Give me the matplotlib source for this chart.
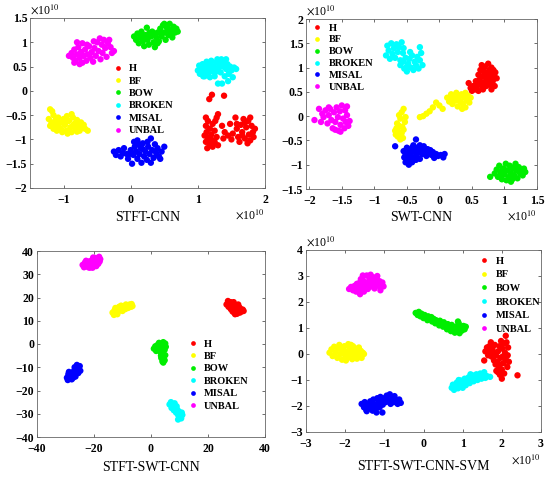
import numpy as np
import matplotlib
matplotlib.use("Agg")
import matplotlib.pyplot as plt
from matplotlib.lines import Line2D

plt.rcParams["font.family"] = ["Liberation Serif", "DejaVu Serif"]
plt.rcParams["mathtext.fontset"] = "stix"

class_names = ["H", "BF", "BOW", "BROKEN", "MISAL", "UNBAL"]
class_colors = ["#ff0000", "#ffff00", "#00ee00", "#00ffff", "#0000ff", "#ff00ff"]

# ---- STFT-CNN (x1e10) ----
stft_cnn_H = np.array([
    (1.17, -0.17), (1.21, -0.08), (1.39, -0.10),
    (1.12, -0.55), (1.15, -0.62), (1.12, -0.72), (1.18, -0.78), (1.13, -0.85), (1.20, -0.90),
    (1.15, -0.97), (1.12, -1.05), (1.18, -1.10), (1.14, -1.18), (1.22, -1.15), (1.25, -1.05),
    (1.22, -0.68), (1.28, -0.55), (1.30, -0.48), (1.26, -0.62), (1.25, -0.82), (1.28, -0.95),
    (1.30, -1.12), (1.20, -1.00), (1.10, -0.92), (1.36, -0.72), (1.40, -0.85), (1.38, -0.98),
    (1.45, -0.92), (1.48, -0.68), (1.52, -0.88), (1.50, -1.00), (1.56, -0.55), (1.58, -0.78),
    (1.60, -0.95), (1.64, -0.70), (1.66, -0.85), (1.68, -0.58), (1.70, -0.98), (1.72, -0.75),
    (1.75, -0.62), (1.76, -0.90), (1.78, -1.02), (1.80, -0.72), (1.82, -0.85), (1.85, -0.78),
    (1.62, -1.05), (1.70, -0.65), (1.78, -0.55), (1.74, -1.08), (1.83, -0.95), (1.66, -0.92),
    (1.58, -0.68)])
stft_cnn_BF = np.array([
    (-1.20, -0.38), (-1.17, -0.42), (-1.15, -0.50), (-1.22, -0.58), (-1.18, -0.65), (-1.12, -0.60),
    (-1.20, -0.72), (-1.15, -0.78), (-1.10, -0.70), (-1.08, -0.55), (-1.05, -0.65), (-1.04, -0.78),
    (-1.00, -0.58), (-0.98, -0.70), (-0.96, -0.82), (-0.95, -0.52), (-0.92, -0.62), (-0.90, -0.75),
    (-0.88, -0.85), (-0.86, -0.55), (-0.84, -0.68), (-0.82, -0.78), (-0.80, -0.60), (-0.78, -0.72),
    (-0.76, -0.82), (-0.74, -0.65), (-0.72, -0.76), (-0.68, -0.78), (-0.64, -0.82), (-1.10, -0.82),
    (-1.02, -0.85), (-0.94, -0.88), (-0.88, -0.48), (-1.13, -0.68), (-0.97, -0.64), (-0.86, -0.72),
    (-1.07, -0.74), (-0.80, -0.84), (-0.70, -0.70)])
stft_cnn_BOW = np.array([
    (0.05, 1.12), (0.08, 1.05), (0.10, 1.18), (0.12, 0.98), (0.14, 1.10), (0.16, 1.22), (0.18, 1.02),
    (0.20, 0.92), (0.22, 1.15), (0.24, 1.30), (0.25, 1.05), (0.27, 0.95), (0.30, 1.12), (0.32, 1.22),
    (0.34, 1.00), (0.36, 0.90), (0.38, 1.10), (0.40, 1.20), (0.42, 1.02), (0.44, 1.28), (0.46, 1.12),
    (0.48, 1.35), (0.50, 1.20), (0.52, 1.05), (0.54, 1.30), (0.56, 1.15), (0.58, 1.38), (0.60, 1.25),
    (0.62, 1.10), (0.64, 1.32), (0.66, 1.20), (0.68, 1.28), (0.70, 1.22), (0.50, 1.38), (0.45, 1.18),
    (0.35, 1.18), (0.20, 1.08), (0.28, 1.20), (0.55, 1.22), (0.62, 1.18), (0.40, 0.98), (0.15, 1.15)])
stft_cnn_BROKEN = np.array([
    (1.00, 0.42), (1.02, 0.52), (1.03, 0.35), (1.05, 0.45), (1.07, 0.55), (1.08, 0.30), (1.10, 0.40),
    (1.12, 0.50), (1.13, 0.60), (1.15, 0.35), (1.17, 0.45), (1.18, 0.55), (1.20, 0.62), (1.22, 0.40),
    (1.24, 0.50), (1.25, 0.30), (1.27, 0.58), (1.29, 0.65), (1.30, 0.45), (1.32, 0.55), (1.34, 0.38),
    (1.35, 0.65), (1.37, 0.50), (1.39, 0.60), (1.40, 0.30), (1.42, 0.45), (1.44, 0.55), (1.46, 0.35),
    (1.48, 0.50), (1.50, 0.42), (1.52, 0.28), (1.54, 0.48), (1.57, 0.45), (1.45, 0.20), (1.30, 0.15),
    (1.36, 0.15), (1.10, 0.30), (1.28, 0.40), (1.18, 0.28), (1.42, 0.65)])
stft_cnn_MISAL = np.array([
    (-0.25, -1.25), (-0.22, -1.32), (-0.18, -1.22), (-0.15, -1.35), (-0.12, -1.28), (-0.10, -1.18),
    (-0.06, -1.30), (-0.04, -1.40), (0.00, -1.22), (0.02, -1.50), (0.04, -1.32), (0.06, -1.15),
    (0.08, -1.25), (0.10, -1.02), (0.10, -1.40), (0.13, -1.30), (0.15, -1.18), (0.16, -1.48),
    (0.18, -1.08), (0.20, -1.35), (0.22, -1.25), (0.24, -1.42), (0.26, -1.15), (0.28, -1.30),
    (0.30, -0.98), (0.30, -1.48), (0.32, -1.22), (0.34, -1.38), (0.36, -1.10), (0.38, -1.28),
    (0.40, -1.18), (0.42, -1.35), (0.44, -1.40), (0.46, -1.25), (0.50, -1.15), (0.12, -1.10),
    (0.05, -1.05), (-0.02, -1.30), (0.25, -1.05), (0.18, -1.20)])
stft_cnn_UNBAL = np.array([
    (-0.92, 0.72), (-0.88, 0.78), (-0.86, 0.68), (-0.84, 0.85), (-0.82, 0.62), (-0.80, 0.75),
    (-0.78, 0.90), (-0.76, 0.68), (-0.74, 0.80), (-0.72, 0.58), (-0.70, 0.72), (-0.68, 0.85),
    (-0.66, 0.62), (-0.64, 0.75), (-0.62, 0.92), (-0.60, 0.68), (-0.58, 0.80), (-0.56, 0.60),
    (-0.54, 0.88), (-0.52, 0.72), (-0.50, 1.00), (-0.48, 0.82), (-0.46, 1.08), (-0.45, 0.65),
    (-0.43, 0.95), (-0.42, 0.78), (-0.40, 1.05), (-0.38, 0.88), (-0.36, 0.70), (-0.34, 0.98),
    (-0.32, 1.05), (-0.30, 0.90), (-0.28, 0.78), (-0.25, 0.82), (-0.80, 1.00), (-0.72, 0.98),
    (-0.65, 0.95), (-0.84, 0.58), (-0.76, 0.55), (-0.55, 1.02)])

# ---- SWT-CNN (x1e10) ----
swt_cnn_H = np.array([
    (0.45, 0.68), (0.48, 0.58), (0.50, 0.52), (0.52, 0.62), (0.55, 0.55), (0.56, 0.72), (0.58, 0.62),
    (0.60, 0.85), (0.60, 0.52), (0.62, 0.75), (0.63, 0.95), (0.64, 0.65), (0.65, 1.05), (0.66, 0.82),
    (0.67, 0.55), (0.68, 0.92), (0.69, 0.70), (0.70, 1.02), (0.71, 0.80), (0.72, 0.62), (0.73, 0.90),
    (0.74, 0.72), (0.75, 1.08), (0.76, 0.85), (0.77, 0.95), (0.78, 0.65), (0.79, 0.78), (0.80, 1.00),
    (0.81, 0.88), (0.82, 0.72), (0.83, 0.95), (0.84, 0.82), (0.85, 0.62), (0.86, 0.90), (0.88, 0.78),
    (0.66, 0.62), (0.70, 0.88), (0.75, 0.78), (0.62, 0.68), (0.80, 0.55)])
swt_cnn_BF = np.array([
    (-0.55, 0.15), (-0.58, 0.08), (-0.62, 0.02), (-0.60, -0.05), (-0.65, -0.15), (-0.62, -0.20),
    (-0.66, -0.25), (-0.63, -0.32), (-0.67, -0.38), (-0.64, -0.42), (-0.60, -0.48), (-0.56, -0.45),
    (-0.58, -0.35), (-0.55, -0.28), (-0.53, -0.12), (-0.57, -0.22), (-0.52, -0.02), (-0.68, -0.30),
    (-0.30, -0.02), (-0.25, 0.00), (-0.20, 0.05), (-0.15, 0.10), (-0.10, 0.18), (-0.05, 0.28),
    (0.05, 0.15), (0.00, 0.22), (0.12, 0.38), (0.15, 0.30), (0.18, 0.45), (0.20, 0.25), (0.22, 0.38),
    (0.25, 0.32), (0.26, 0.48), (0.28, 0.20), (0.30, 0.40), (0.32, 0.30), (0.34, 0.45), (0.36, 0.25),
    (0.38, 0.38), (0.40, 0.18), (0.42, 0.32), (0.44, 0.42), (0.46, 0.28), (0.48, 0.38), (0.40, 0.48),
    (0.18, 0.35), (0.35, 0.15)])
swt_cnn_BOW = np.array([
    (0.78, -1.25), (0.85, -1.18), (0.88, -1.10), (0.90, -1.25), (0.92, -1.02), (0.94, -1.15),
    (0.96, -1.30), (0.98, -1.08), (1.00, -1.20), (1.02, -0.98), (1.03, -1.32), (1.05, -1.12),
    (1.07, -1.25), (1.08, -1.02), (1.10, -1.18), (1.12, -1.30), (1.13, -1.08), (1.15, -1.22),
    (1.17, -0.98), (1.18, -1.12), (1.20, -1.28), (1.22, -1.05), (1.24, -1.18), (1.26, -1.10),
    (1.28, -1.22), (1.30, -1.08), (1.32, -1.15), (1.00, -1.10), (0.95, -1.20), (1.10, -1.35),
    (1.15, -1.05)])
swt_cnn_BROKEN = np.array([
    (-0.82, 1.25), (-0.80, 1.45), (-0.78, 1.35), (-0.76, 1.18), (-0.74, 1.50), (-0.72, 1.28),
    (-0.70, 1.40), (-0.68, 1.20), (-0.66, 1.48), (-0.64, 1.32), (-0.62, 1.42), (-0.60, 1.15),
    (-0.58, 1.52), (-0.56, 1.30), (-0.55, 1.40), (-0.60, 1.05), (-0.56, 1.12), (-0.54, 0.98),
    (-0.52, 1.20), (-0.50, 0.92), (-0.48, 1.08), (-0.46, 1.18), (-0.44, 1.00), (-0.42, 1.25),
    (-0.40, 0.95), (-0.38, 1.12), (-0.36, 1.05), (-0.34, 1.22), (-0.32, 0.98), (-0.30, 1.15),
    (-0.28, 1.30), (-0.26, 1.05), (-0.30, 1.42), (-0.45, 1.32), (-0.50, 1.02)])
swt_cnn_MISAL = np.array([
    (-0.68, -0.62), (-0.36, -0.48), (-0.55, -0.72), (-0.54, -0.85), (-0.52, -0.78), (-0.50, -0.92),
    (-0.50, -0.65), (-0.48, -0.82), (-0.47, -1.00), (-0.46, -0.72), (-0.45, -0.88), (-0.44, -0.78),
    (-0.42, -0.95), (-0.42, -0.65), (-0.40, -0.85), (-0.38, -0.72), (-0.36, -0.90), (-0.35, -0.80),
    (-0.34, -0.65), (-0.32, -0.75), (-0.30, -0.88), (-0.28, -0.68), (-0.26, -0.78), (-0.24, -0.62),
    (-0.22, -0.72), (-0.20, -0.82), (-0.18, -0.68), (-0.16, -0.76), (-0.14, -0.70), (-0.12, -0.80),
    (-0.10, -0.74), (-0.08, -0.86), (-0.05, -0.78), (-0.02, -0.82), (0.02, -0.80), (0.06, -0.85),
    (0.08, -0.78), (-0.52, -0.95), (-0.40, -0.60), (-0.30, -0.60)])
swt_cnn_UNBAL = np.array([
    (-1.92, -0.08), (-1.85, 0.15), (-1.82, -0.12), (-1.80, 0.05), (-1.78, -0.02), (-1.75, 0.12),
    (-1.72, -0.15), (-1.70, 0.02), (-1.68, 0.15), (-1.66, -0.08), (-1.64, -0.25), (-1.62, 0.08),
    (-1.60, -0.12), (-1.58, 0.18), (-1.56, -0.02), (-1.55, -0.30), (-1.53, 0.10), (-1.52, -0.18),
    (-1.50, 0.22), (-1.48, -0.05), (-1.46, -0.25), (-1.45, 0.12), (-1.44, -0.12), (-1.42, 0.02),
    (-1.40, -0.20), (-1.38, -0.10), (-1.42, 0.20), (-1.60, -0.28), (-1.70, 0.18), (-1.52, -0.32)])

# ---- STFT-SWT-CNN ----
fused_cnn_H = np.array([
    (26.5, 17.0), (27.0, 18.5), (27.2, 16.0), (27.5, 17.5), (28.0, 15.0), (28.0, 18.0), (28.3, 16.5),
    (28.6, 14.0), (28.8, 17.2), (29.0, 15.5), (29.2, 13.5), (29.5, 16.8), (29.7, 14.8), (30.0, 16.0),
    (30.2, 13.0), (30.4, 15.0), (30.6, 17.0), (30.8, 14.2), (31.0, 15.8), (31.2, 13.5), (31.5, 15.0),
    (31.8, 14.0), (32.2, 14.8), (32.5, 14.2), (29.0, 18.0), (28.5, 15.8), (30.0, 13.8), (29.5, 12.8)])
fused_cnn_BF = np.array([
    (-13.5, 13.5), (-13.0, 12.5), (-12.8, 14.5), (-12.3, 13.5), (-12.0, 15.0), (-11.5, 14.0),
    (-11.2, 16.0), (-10.8, 15.0), (-10.5, 16.5), (-10.0, 15.2), (-9.5, 16.0), (-9.0, 15.0),
    (-8.5, 16.2), (-8.0, 15.5), (-7.5, 17.0), (-7.0, 16.0), (-6.8, 17.2), (-6.5, 16.3),
    (-11.8, 12.8), (-10.0, 14.2), (-8.8, 17.0), (-12.5, 15.5)])
fused_cnn_BOW = np.array([
    (1.0, -2.0), (1.5, -1.0), (1.8, -3.0), (2.2, -0.5), (2.5, -2.2), (2.8, 0.5), (3.0, -1.5),
    (3.3, -3.5), (3.5, 0.0), (3.8, -2.0), (4.0, -1.0), (4.3, 0.8), (4.5, -0.5), (4.8, -2.5),
    (5.0, 0.2), (5.2, -1.2), (3.8, -4.5), (4.2, -5.5), (3.6, -6.0), (4.5, -6.5), (4.0, -7.5),
    (4.8, -7.0), (4.3, -8.0), (3.5, -5.0), (5.0, -4.8)])
fused_cnn_BROKEN = np.array([
    (6.5, -26.0), (7.0, -25.0), (7.2, -27.5), (7.8, -26.2), (8.0, -28.5), (8.3, -25.5), (8.5, -27.2),
    (8.8, -29.5), (9.0, -26.8), (9.2, -28.2), (9.5, -30.5), (9.8, -29.0), (10.0, -31.5), (10.3, -30.0),
    (10.6, -32.0), (11.0, -30.5), (9.5, -32.5), (8.0, -27.0), (10.8, -29.5)])
fused_cnn_MISAL = np.array([
    (-29.5, -14.5), (-29.0, -13.0), (-29.2, -15.5), (-28.5, -14.0), (-28.0, -12.5), (-28.2, -15.0),
    (-27.5, -13.5), (-27.0, -11.5), (-27.3, -14.5), (-26.8, -10.0), (-26.5, -12.5), (-26.0, -9.0),
    (-26.2, -11.0), (-25.5, -10.5), (-25.0, -9.5), (-24.8, -11.5), (-25.5, -12.5), (-28.8, -12.0),
    (-27.8, -15.2), (-26.5, -14.0)])
fused_cnn_UNBAL = np.array([
    (-24.0, 34.0), (-23.5, 33.0), (-23.2, 35.0), (-22.5, 34.2), (-22.0, 33.0), (-21.8, 35.5),
    (-21.2, 34.0), (-20.8, 36.0), (-20.5, 32.8), (-20.0, 35.0), (-19.5, 37.0), (-19.2, 33.5),
    (-19.0, 36.0), (-18.5, 34.5), (-18.2, 37.5), (-18.0, 35.5), (-17.8, 36.5), (-22.8, 35.8),
    (-20.3, 37.2), (-21.5, 32.8)])

# ---- STFT-SWT-CNN-SVM (x1e10) ----
svm_H = np.array([
    (1.55, -0.25), (1.58, 0.10), (1.62, 0.25), (1.65, -0.05), (1.68, 0.30), (1.70, 0.10), (1.72, 0.45),
    (1.74, -0.10), (1.76, 0.20), (1.78, 0.05), (1.80, -0.25), (1.82, 0.35), (1.84, -0.40),
    (1.86, -0.65), (1.88, -0.30), (1.90, 0.10), (1.92, -0.50), (1.94, 0.30), (1.95, -0.80),
    (1.96, -0.15), (1.98, 0.50), (2.00, -0.60), (2.00, -0.95), (2.02, 0.20), (2.04, -0.35),
    (2.05, 0.40), (2.06, -0.75), (2.08, 0.05), (2.10, -0.20), (2.12, 0.45), (2.14, -0.50),
    (2.15, -0.05), (2.16, 0.25), (2.18, -0.30), (2.10, 0.70), (1.90, -0.70), (1.96, -0.40),
    (2.40, -0.82), (2.02, -0.10), (1.85, -0.05)])
svm_BF = np.array([
    (-2.40, 0.05), (-2.35, 0.18), (-2.32, -0.08), (-2.28, 0.28), (-2.25, 0.05), (-2.20, -0.15),
    (-2.18, 0.20), (-2.15, 0.35), (-2.12, 0.00), (-2.08, -0.22), (-2.05, 0.15), (-2.02, 0.30),
    (-2.00, -0.05), (-1.98, -0.25), (-1.95, 0.10), (-1.92, 0.38), (-1.90, -0.12), (-1.88, 0.22),
    (-1.85, 0.02), (-1.82, -0.20), (-1.80, 0.30), (-1.78, 0.10), (-1.75, -0.08), (-1.72, 0.20),
    (-1.70, -0.18), (-1.68, 0.05), (-1.65, 0.25), (-1.62, -0.05), (-1.60, 0.12), (-1.58, -0.15),
    (-1.55, 0.05), (-1.52, 0.00), (-2.10, 0.22), (-1.85, 0.35)])
svm_BOW = np.array([
    (-0.20, 1.58), (-0.15, 1.50), (-0.12, 1.62), (-0.08, 1.45), (-0.05, 1.55), (0.00, 1.38),
    (0.03, 1.50), (0.06, 1.42), (0.10, 1.30), (0.12, 1.45), (0.16, 1.35), (0.20, 1.42), (0.22, 1.25),
    (0.26, 1.35), (0.30, 1.18), (0.32, 1.30), (0.36, 1.22), (0.40, 1.10), (0.42, 1.28), (0.46, 1.15),
    (0.50, 1.05), (0.52, 1.22), (0.56, 1.10), (0.60, 0.95), (0.62, 1.15), (0.66, 1.02), (0.70, 0.88),
    (0.72, 1.12), (0.76, 0.95), (0.80, 0.82), (0.82, 1.05), (0.86, 0.92), (0.90, 1.18), (0.92, 0.80),
    (0.95, 1.02), (0.98, 0.90), (1.02, 1.08), (1.05, 0.95), (1.08, 1.05), (0.88, 1.25)])
svm_BROKEN = np.array([
    (0.72, -1.30), (0.75, -1.18), (0.78, -1.38), (0.82, -1.22), (0.85, -1.10), (0.88, -1.32),
    (0.92, -1.15), (0.95, -1.02), (0.98, -1.25), (1.02, -1.10), (1.05, -0.95), (1.08, -1.20),
    (1.12, -1.02), (1.15, -0.90), (1.18, -1.12), (1.22, -0.95), (1.25, -0.82), (1.28, -1.05),
    (1.32, -0.90), (1.35, -0.78), (1.38, -1.00), (1.42, -0.85), (1.45, -0.75), (1.48, -0.95),
    (1.52, -0.82), (1.55, -0.70), (1.58, -0.92), (1.62, -0.85), (1.70, -0.88), (1.00, -1.30),
    (1.20, -0.78), (0.90, -1.00)])
svm_MISAL = np.array([
    (-1.58, -1.92), (-1.52, -2.05), (-1.50, -1.85), (-1.46, -2.15), (-1.42, -1.95), (-1.40, -2.10),
    (-1.36, -1.82), (-1.34, -2.00), (-1.30, -2.18), (-1.28, -1.75), (-1.25, -1.95), (-1.22, -2.10),
    (-1.18, -1.70), (-1.16, -1.88), (-1.12, -2.05), (-1.10, -1.65), (-1.08, -1.80), (-1.05, -2.25),
    (-1.04, -1.95), (-1.00, -1.70), (-0.96, -1.85), (-0.94, -1.60), (-0.90, -1.78), (-0.86, -1.55),
    (-0.84, -1.92), (-0.80, -1.70), (-0.76, -1.85), (-0.74, -1.62), (-0.70, -1.78), (-0.66, -1.92),
    (-0.62, -1.75), (-0.58, -1.88), (-1.20, -2.25), (-1.45, -2.20)])
svm_UNBAL = np.array([
    (-1.90, 2.50), (-1.85, 2.58), (-1.80, 2.45), (-1.76, 2.62), (-1.72, 2.40), (-1.68, 2.55),
    (-1.65, 2.72), (-1.62, 2.30), (-1.60, 2.48), (-1.58, 2.65), (-1.55, 2.85), (-1.52, 2.40),
    (-1.50, 2.58), (-1.48, 2.75), (-1.45, 3.02), (-1.42, 2.50), (-1.40, 2.68), (-1.38, 2.88),
    (-1.35, 3.05), (-1.32, 2.60), (-1.30, 2.78), (-1.28, 2.95), (-1.25, 2.52), (-1.22, 2.70),
    (-1.20, 2.88), (-1.18, 3.00), (-1.15, 2.62), (-1.12, 2.80), (-1.10, 2.45), (-1.05, 2.75),
    (-1.02, 2.60), (-1.55, 3.02), (-1.60, 2.88), (-1.70, 2.70)])

panel_titles = ["STFT-CNN", "SWT-CNN", "STFT-SWT-CNN", "STFT-SWT-CNN-SVM"]
panel_xticks = [[-1, 0, 1, 2], [-2, -1.5, -1, -0.5, 0, 0.5, 1, 1.5],
                [-40, -20, 0, 20, 40], [-3, -2, -1, 0, 1, 2, 3]]
panel_yticks = [[-2, -1.5, -1, -0.5, 0, 0.5, 1, 1.5], [-1.5, -1, -0.5, 0, 0.5, 1, 1.5, 2],
                [-40, -30, -20, -10, 0, 10, 20, 30, 40], [-3, -2, -1, 0, 1, 2, 3, 4]]
panel_xlim = [(-1.5, 2), (-2.05, 1.5), (-40, 40), (-3, 3)]
panel_ylim = [(-2, 1.5), (-1.5, 2), (-40, 40), (-3, 4)]
panel_scaled = [True, True, False, True]

panel_data = [
    [stft_cnn_H, stft_cnn_BF, stft_cnn_BOW, stft_cnn_BROKEN, stft_cnn_MISAL, stft_cnn_UNBAL],
    [swt_cnn_H, swt_cnn_BF, swt_cnn_BOW, swt_cnn_BROKEN, swt_cnn_MISAL, swt_cnn_UNBAL],
    [fused_cnn_H, fused_cnn_BF, fused_cnn_BOW, fused_cnn_BROKEN, fused_cnn_MISAL, fused_cnn_UNBAL],
    [svm_H, svm_BF, svm_BOW, svm_BROKEN, svm_MISAL, svm_UNBAL],
]

# axes rectangles (left, bottom, width, height) in figure fractions
axes_rects = [
    (30 / 550, 1 - 188 / 478, 235 / 550, 170 / 478),
    (306 / 550, 1 - 189 / 478, 231 / 550, 170 / 478),
    (37 / 550, 1 - 437 / 478, 228 / 550, 186 / 478),
    (306 / 550, 1 - 432 / 478, 235 / 550, 182 / 478),
]
legend_anchor = [(0.355, 0.73), (0.03, 0.975), (0.665, 0.525), (0.74, 0.965)]
legend_spacing = [0.3, 0.25, 0.3, 0.42]
title_offset = [-0.175, -0.17, -0.165, -0.19]


def tick_text(v):
    s = "%g" % v
    return s.replace("-", "\u2212")


fig = plt.figure(figsize=(5.5, 4.78), dpi=100)

for i in range(4):
    ax = fig.add_axes(axes_rects[i])
    for pts, name, col in zip(panel_data[i], class_names, class_colors):
        ax.scatter(pts[:, 0], pts[:, 1], s=21, c=col, edgecolors="none", label=name)
    ax.set_xlim(panel_xlim[i])
    ax.set_ylim(panel_ylim[i])
    ax.set_xticks(panel_xticks[i])
    ax.set_yticks(panel_yticks[i])
    ax.set_xticklabels([tick_text(v) for v in panel_xticks[i]])
    ax.set_yticklabels([tick_text(v) for v in panel_yticks[i]])
    ax.tick_params(direction="in", top=True, right=True, length=2.5, width=0.6,
                   labelsize=8.5, pad=2, color="#555555")
    ax.tick_params(axis="x", pad=4)
    for lab in ax.get_xticklabels() + ax.get_yticklabels():
        lab.set_fontweight("bold")
    for sp in ax.spines.values():
        sp.set_linewidth(0.6)
        sp.set_color("#666666")

    handles = [Line2D([], [], linestyle="none", marker="o", markersize=3.4,
                      markerfacecolor=c, markeredgecolor="none") for c in class_colors]
    ax.legend(handles, class_names, loc="upper left", bbox_to_anchor=legend_anchor[i],
              frameon=False, borderpad=0, borderaxespad=0, handlelength=0.8,
              handletextpad=0.7, labelspacing=legend_spacing[i],
              prop={"weight": "bold", "size": 7.5})

    ax.text(0.5, title_offset[i], panel_titles[i], transform=ax.transAxes,
            ha="center", va="center", fontsize=10)
    if panel_scaled[i]:
        ax.text(0.0, 1.005, r"$\times$10$^{10}$", transform=ax.transAxes,
                ha="left", va="bottom", fontsize=8.5)
        ax.text(1.0, -0.115, r"$\times$10$^{10}$", transform=ax.transAxes,
                ha="right", va="top", fontsize=8.5)

fig.savefig("out.png", dpi=100)
